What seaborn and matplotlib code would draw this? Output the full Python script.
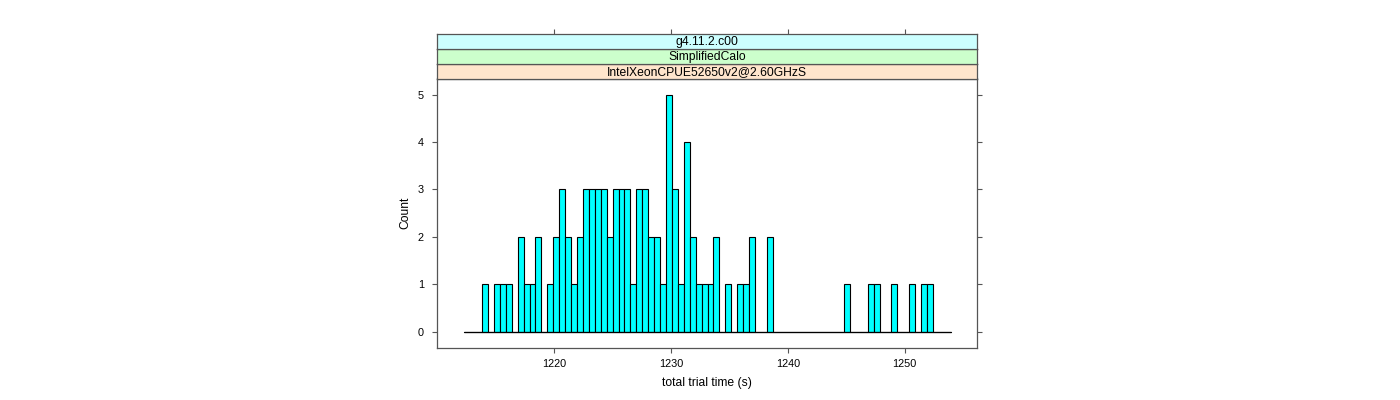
import numpy as np
import pandas as pd
import matplotlib
matplotlib.use("Agg")
import matplotlib.pyplot as plt
import seaborn as sns

# histogram breaks (s) and counts per bin
bin_start = 1212.29
bin_width = 0.508
counts = [0, 0, 0, 1, 0, 1, 1, 1, 0, 2,
          1, 1, 2, 0, 1, 2, 3, 2, 1, 2,
          3, 3, 3, 3, 2, 3, 3, 3, 1, 3,
          3, 2, 2, 1, 5, 3, 1, 4, 2, 1,
          1, 1, 2, 0, 1, 0, 1, 1, 2, 0,
          0, 2, 0, 0, 0, 0, 0, 0, 0, 0,
          0, 0, 0, 0, 1, 0, 0, 0, 1, 1,
          0, 0, 1, 0, 0, 1, 0, 1, 1, 0,
          0, 0]
strip_labels = ["IntelXeonCPUE52650v2@2.60GHzS", "SimplifiedCalo", "g4.11.2.c00"]
strip_colors = ["#ffe5cc", "#ccffcc", "#ccffff"]
x_ticks = [1220, 1230, 1240, 1250]
y_ticks = [0, 1, 2, 3, 4, 5]
x_label = "total trial time (s)"
y_label = "Count"

edges = bin_start + bin_width * np.arange(len(counts) + 1)
df = pd.DataFrame({"time": (edges[:-1] + edges[1:]) / 2, "n": counts})

sns.set_style("white")
plt.rcParams['font.family'] = ['Liberation Sans', 'DejaVu Sans']
plt.rcParams['text.color'] = 'black'
plt.rcParams['xtick.color'] = 'black'
plt.rcParams['ytick.color'] = 'black'
plt.rcParams['axes.labelcolor'] = 'black'
frame = "#555555"

fig = plt.figure(figsize=(14, 4), dpi=100)
ax = fig.add_axes([437.3 / 1400, 1 - 347.7 / 400, (977 - 437.3) / 1400, (347.7 - 78.5) / 400])

sns.histplot(data=df, x="time", weights="n", binwidth=bin_width,
             binrange=(edges[0], edges[-1]), stat="count",
             color="#00ffff", edgecolor="black", linewidth=0.8, alpha=1, ax=ax)
# empty bins are drawn as a flat line along the baseline, like lattice does
ax.plot([edges[0], edges[-1]], [0, 0], color="black", linewidth=0.9, zorder=1.5)

xlim = (1209.98, 1256.19)
ax.set_xlim(*xlim)
ax.set_ylim(-0.34, 5.34)
ax.set_xticks(x_ticks)
ax.set_yticks(y_ticks)
ax.set_xlabel(x_label, fontsize=8.7, labelpad=6)
ax.set_ylabel(y_label, fontsize=8.7, labelpad=5)
ax.tick_params(axis="both", which="both", direction="out", length=3.6, width=0.8,
               color=frame, labelcolor="black", labelsize=7.8, pad=4.5)
ax.tick_params(axis="y", right=True, left=True, pad=6)
ax.tick_params(axis="x", bottom=True, top=False)
for s in ax.spines.values():
    s.set_color(frame)
    s.set_linewidth(0.9)

# lattice style strips above the panel
strip_h = 15 / 400
top = 1 - 78.5 / 400
for i, (lab, col) in enumerate(zip(strip_labels, strip_colors)):
    sax = fig.add_axes([ax.get_position().x0, top + i * strip_h,
                        ax.get_position().width, strip_h])
    sax.set_facecolor(col)
    sax.set_xlim(*xlim)
    sax.set_ylim(0, 1)
    sax.set_yticks([])
    sax.text(0.5, 0.45, lab, transform=sax.transAxes, ha="center", va="center",
             fontsize=8.7, color="black")
    for s in sax.spines.values():
        s.set_color(frame)
        s.set_linewidth(0.9)
    if i == len(strip_labels) - 1:
        sax.set_xticks(x_ticks)
        sax.tick_params(axis="x", bottom=False, top=True, labelbottom=False, labeltop=False,
                        direction="out", length=3.6, width=0.8, color=frame)
    else:
        sax.set_xticks([])

fig.savefig("out.png", dpi=100)
